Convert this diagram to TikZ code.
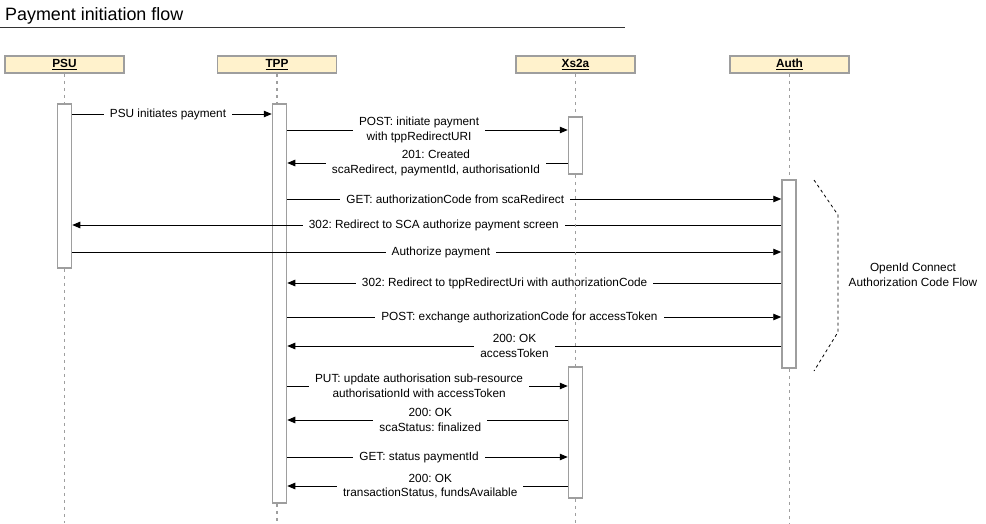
\documentclass[tikz,border=0pt]{standalone}
\usepackage{fontspec}
\setmainfont{Liberation Sans}
\frenchspacing
\usetikzlibrary{arrows.meta, positioning}
\definecolor{headfill}{HTML}{FFF2CC}
\definecolor{edgegray}{HTML}{9E9E9E}
\tikzset{
	x=1pt, y=-1pt, % one unit is one pixel of the picture, y runs downwards
	head/.style={draw=edgegray, line width=1.5pt, fill=headfill, minimum width=119pt, minimum height=17pt, inner sep=0pt, font=\fontsize{11.8}{13}\selectfont\bfseries}, % participant boxes
	bar/.style={draw=edgegray, line width=1.5pt, fill=white, minimum width=14pt, inner sep=0pt}, % activation bars
	life/.style={draw=edgegray, line width=1.2pt, dash pattern=on 3pt off 4pt}, % life lines
	msg/.style={-{Triangle[length=8pt,width=6.5pt]}, line width=0.9pt}, % messages
	lbl/.style={fill=white, inner xsep=6pt, inner ysep=0.5pt, align=center, font=\fontsize{11.8}{14.5}\selectfont}, % message texts
}

\begin{document}
\begin{tikzpicture}
	\useasboundingbox (0,0) rectangle (986,523);

	% title
	\node[anchor=base west, inner sep=0pt, font=\fontsize{17.9}{20}\selectfont] (title) at (5,20) {Payment initiation flow};
	\draw[black!80] (0,27) -- (625,27);

	% participants
	\node[head] (psu) at (64.5,64.5) {\underline{PSU}};
	\node[head] (tpp) at (277,64.5) {\underline{TPP}};
	\node[head] (xs2a) at (575.5,64.5) {\underline{Xs2a}};
	\node[head] (auth) at (789.5,64.5) {\underline{Auth}};

	% activation bars
	\node[bar, minimum height=164pt] (psuBar) at (64.5,186) {};
	\node[bar, minimum height=399pt] (tppBar) at (279.5,303.5) {};
	\node[bar, minimum height=57pt] (xs2aBarA) at (575.5,145.5) {};
	\node[bar, minimum height=131pt] (xs2aBarB) at (575.5,432.5) {};
	\node[bar, minimum height=188pt] (authBar) at (789,274) {};

	% messages
	\foreach \y/\a/\b/\p/\t in {
		114/psuBar.east/tppBar.west/0.48/{PSU initiates payment},
		130/tppBar.east/xs2aBarA.west/0.47/{POST: initiate payment\\with tppRedirectURI},
		163/xs2aBarA.west/tppBar.east/0.47/{201: Created\\scaRedirect, paymentId, authorisationId},
		199/tppBar.east/authBar.west/0.34/{GET: authorizationCode from scaRedirect},
		225/authBar.west/psuBar.east/0.49/{302: Redirect to SCA authorize payment screen},
		252/psuBar.east/authBar.west/0.52/{Authorize payment},
		283/authBar.west/tppBar.east/0.56/{302: Redirect to tppRedirectUri with authorizationCode},
		317/tppBar.east/authBar.west/0.47/{POST: exchange authorizationCode for accessToken},
		346/authBar.west/tppBar.east/0.54/{200: OK\\accessToken},
		386/tppBar.east/xs2aBarB.west/0.47/{PUT: update authorisation sub-resource\\authorisationId with accessToken},
		420/xs2aBarB.west/tppBar.east/0.49/{200: OK\\scaStatus: finalized},
		457/tppBar.east/xs2aBarB.west/0.47/{GET: status paymentId},
		486/xs2aBarB.west/tppBar.east/0.49/{200: OK\\transactionStatus, fundsAvailable}}
		\draw[msg] (\a |- 0,\y) -- node[lbl, pos=\p] {\t} (\b |- 0,\y);

	% life lines
	\draw[life] (psu.south) -- (psuBar.north);
	\draw[life] (psuBar.south) -- (psuBar.south |- 0,523);
	\draw[life] (tpp.south) -- (tpp.south |- tppBar.north);
	\draw[life] (tpp.south |- tppBar.south) -- (tpp.south |- 0,523);
	\draw[life] (xs2a.south) -- (xs2aBarA.north);
	\draw[life] (xs2aBarA.south) -- (xs2aBarB.north);
	\draw[life] (xs2aBarB.south) -- (xs2aBarB.south |- 0,523);
	\draw[life] (auth.south) -- (auth.south |- authBar.north);
	\draw[life] (auth.south |- authBar.south) -- (auth.south |- 0,523);

	% OpenId Connect part
	\coordinate (oidcTop) at (814,180);
	\coordinate (oidcBot) at (814,371);
	\draw[dash pattern=on 3pt off 3pt, line width=0.8pt] (oidcTop) -- (838,215) -- (838,332) -- (oidcBot);
	\node[align=center, font=\fontsize{11.8}{15}\selectfont] (oidc) at (913,275) {OpenId Connect\\Authorization Code Flow};
\end{tikzpicture}
\end{document}
